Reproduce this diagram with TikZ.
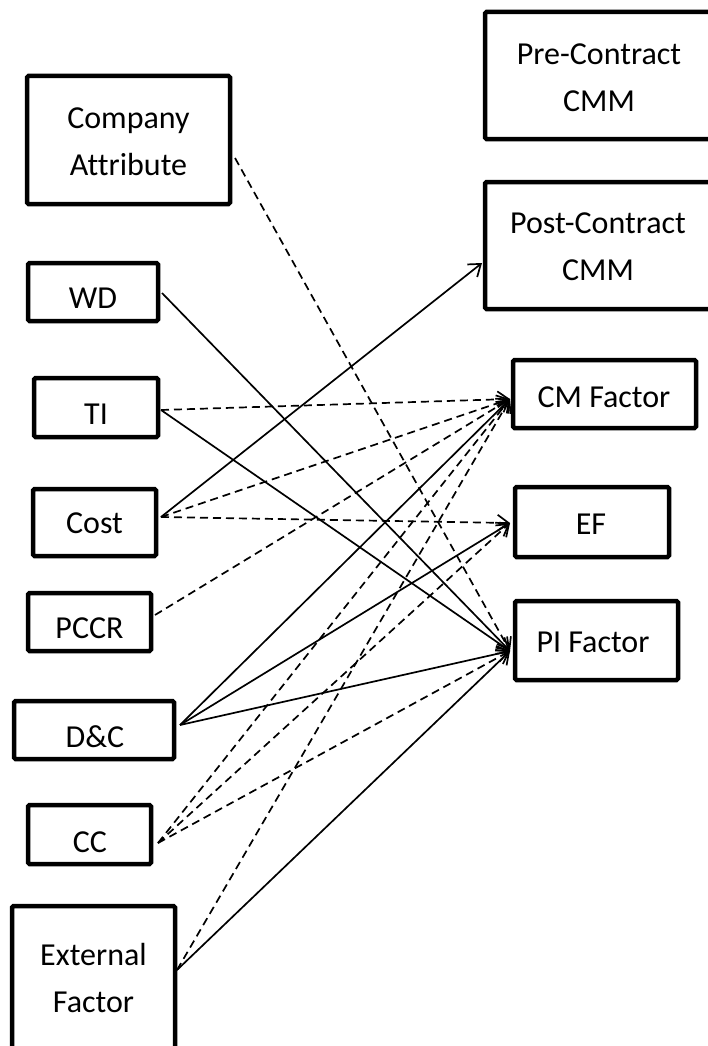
\documentclass[tikz,border=0pt]{standalone}
\usepackage{fontspec}
\setmainfont{Carlito}[Ligatures=NoCommon]
\usetikzlibrary{arrows.meta}
\begin{document}
\begin{tikzpicture}[x=1pt,y=-1pt,
  box/.style={draw, line width=4.5pt, rounded corners=1.5pt, inner sep=0pt, outer sep=0pt},
  txt/.style={font=\fontsize{32}{47}\selectfont, align=center, inner sep=0pt},
  link/.style={line width=1.7pt, -{Straight Barb[length=11pt,width=16pt,line width=1.7pt]}},
  dashlink/.style={link, dash pattern=on 8pt off 5pt}]
\useasboundingbox (0,0) rectangle (708,1046);
% boxes
\node[box, minimum width=203, minimum height=128] (ca) at (128.5,140) {};
\node[box, minimum width=130, minimum height=58] (wd) at (93,292) {};
\node[box, minimum width=124, minimum height=59] (ti) at (96,407.5) {};
\node[box, minimum width=123, minimum height=67] (cost) at (94.5,522.5) {};
\node[box, minimum width=123, minimum height=58] (pccr) at (89.5,622) {};
\node[box, minimum width=160, minimum height=58] (dc) at (94,730) {};
\node[box, minimum width=123, minimum height=59] (cc) at (89.5,834.5) {};
\node[box, minimum width=163, minimum height=147] (ext) at (93.5,979.5) {};
\node[box, minimum width=229, minimum height=127] (pre) at (599.5,75.5) {};
\node[box, minimum width=229, minimum height=127] (post) at (599.5,245.5) {};
\node[box, minimum width=183, minimum height=68] (cm) at (604.5,394) {};
\node[box, minimum width=154, minimum height=70] (ef) at (592,522) {};
\node[box, minimum width=163, minimum height=79] (pi) at (596.5,640.5) {};
% texts
\node[txt] (ca-t) at (128.5,141.5) {Company\\Attribute};
\node[txt] (wd-t) at (93,298) {WD};
\node[txt] (ti-t) at (96,414) {TI};
\node[txt] (cost-t) at (94.5,523) {Cost};
\node[txt] (pccr-t) at (89.5,628) {PCCR};
\node[txt] (dc-t) at (95,737) {D\&C};
\node[txt] (cc-t) at (90,842) {CC};
\node[txt] (ext-t) at (93.5,978) {External\\Factor};
\node[txt] (pre-t) at (599,78) {Pre-Contract\\CMM};
\node[txt] (post-t) at (598,247) {Post-Contract\\CMM};
\node[txt] (cm-t) at (604,397) {CM Factor};
\node[txt] (ef-t) at (591,524) {EF};
\node[txt] (pi-t) at (593,642) {PI Factor};
% connector ends
\coordinate (ca-o) at (235,158);
\coordinate (wd-o) at (162,293);
\coordinate (ti-o) at (161,410);
\coordinate (cost-o) at (161,517);
\coordinate (pccr-o) at (155,615);
\coordinate (dc-o) at (180,725);
\coordinate (cc-o) at (158,843);
\coordinate (ext-o) at (177,970);
\coordinate (post-i) at (482,263);
\coordinate (cm-i) at (510,399);
\coordinate (ef-i) at (510,523);
\coordinate (pi-i) at (510,651);
% connectors
\draw[dashlink] (ca-o) -- (pi-i);
\draw[link] (wd-o) -- (pi-i);
\draw[dashlink] (ti-o) -- (cm-i);
\draw[link] (ti-o) -- (pi-i);
\draw[link] (cost-o) -- (post-i);
\draw[dashlink] (cost-o) -- (cm-i);
\draw[dashlink] (cost-o) -- (ef-i);
\draw[dashlink] (pccr-o) -- (cm-i);
\draw[link] (dc-o) -- (cm-i);
\draw[link] (dc-o) -- (ef-i);
\draw[link] (dc-o) -- (pi-i);
\draw[dashlink] (cc-o) -- (cm-i);
\draw[dashlink] (cc-o) -- (ef-i);
\draw[dashlink] (cc-o) -- (pi-i);
\draw[dashlink] (ext-o) -- (cm-i);
\draw[link] (ext-o) -- (pi-i);
\end{tikzpicture}
\end{document}
